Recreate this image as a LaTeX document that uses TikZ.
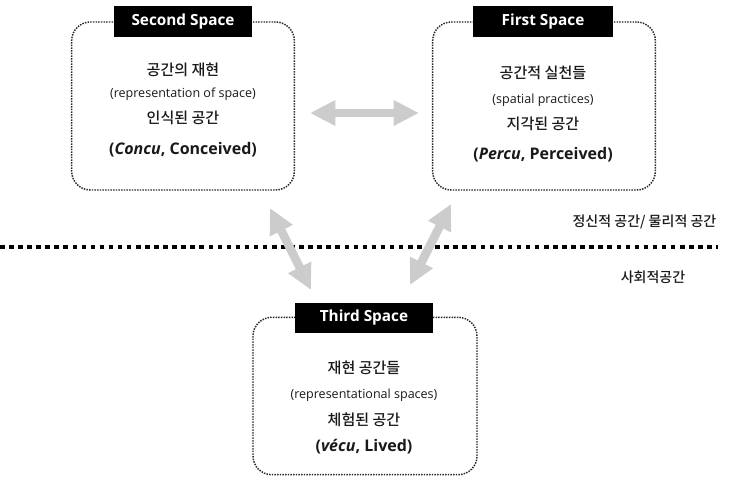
\documentclass[tikz,border=0pt]{standalone}
\usepackage{fontspec}
\setmainfont{Open Sans}
\newfontfamily\kr{Noto Sans CJK KR}[UprightFont={* Medium}, BoldFont={* Bold}]
\usetikzlibrary{arrows.meta}

\begin{document}
\begin{tikzpicture}[x=0.75pt,y=-0.75pt,
		spacebox/.style={draw=black!85, line width=1.1pt, dash pattern=on 1.1pt off 0.9pt, rounded corners=14pt, minimum width=167pt, minimum height=126pt, inner sep=0pt},
		spacetitle/.style={fill=black, text=white, font=\bfseries\fontsize{11.5}{13}\selectfont, minimum width=104pt, minimum height=23pt, inner sep=0pt},
		krline/.style={font=\kr\fontsize{11.3}{13}\selectfont, text=black!90},
		enline/.style={font=\fontsize{9.4}{11}\selectfont, text=black!90},
		keyline/.style={font=\bfseries\fontsize{12}{14}\selectfont, text=black!90},
		sideline/.style={font=\kr\fontsize{10.5}{12}\selectfont, text=black!90},
		twoway/.style={draw=black!20, line width=6.5pt, {Triangle[width=18pt,length=19pt]}-{Triangle[width=18pt,length=19pt]}}]
		\useasboundingbox (0,0) rectangle (731,487);
		% boxes
		\node [spacebox] (second) at (183,106) {};
		\node [spacebox] (first) at (544,106) {};
		\node [spacebox, minimum width=168pt, minimum height=118pt] (third) at (365,396) {};
		\node [spacetitle] (secondtitle) at (183,21.5) {Second Space};
		\node [spacetitle, minimum width=105pt] (firsttitle) at (543,21.5) {First Space};
		\node [spacetitle] (thirdtitle) at (364,318) {Third Space};
		% second space
		\node [krline] (s1) at (183,70) {공간의 재현};
		\node [enline] (s2) at (183,94) {(representation of space)};
		\node [krline] (s3) at (183,118) {인식된 공간};
		\node [keyline] (s4) at (183,150) {(\textit{Concu}, Conceived)};
		% first space
		\node [krline] (f1) at (543,73) {공간적 실천들};
		\node [enline] (f2) at (543,100) {(spatial practices)};
		\node [krline] (f3) at (543,124) {지각된 공간};
		\node [keyline] (f4) at (543,155) {(\textit{Percu}, Perceived)};
		% third space
		\node [krline] (t1) at (364,368) {재현 공간들};
		\node [enline] (t2) at (364,395) {(representational spaces)};
		\node [krline] (t3) at (364,420) {체험된 공간};
		\node [keyline] (t4) at (364,447) {(\textit{vécu}, Lived)};
		% divide
		\coordinate (lineA) at (0,247);
		\coordinate (lineB) at (718,247);
		\draw [black, line width=3pt, dash pattern=on 3.4pt off 3.4pt] (lineA) -- (lineB);
		\node [sideline, anchor=east] (upper) at (721,222) {정신적 공간/ 물리적 공간};
		\node [sideline] (lower) at (653,277) {사회적공간};
		% arrows
		\coordinate (h1) at (310,113);
		\coordinate (h2) at (419,113);
		\coordinate (l1) at (270,208);
		\coordinate (l2) at (311,290);
		\coordinate (r1) at (451,204);
		\coordinate (r2) at (410,285);
		\draw [twoway] (h1) -- (h2);
		\draw [twoway] (l1) -- (l2);
		\draw [twoway] (r1) -- (r2);
	\end{tikzpicture}
\end{document}
